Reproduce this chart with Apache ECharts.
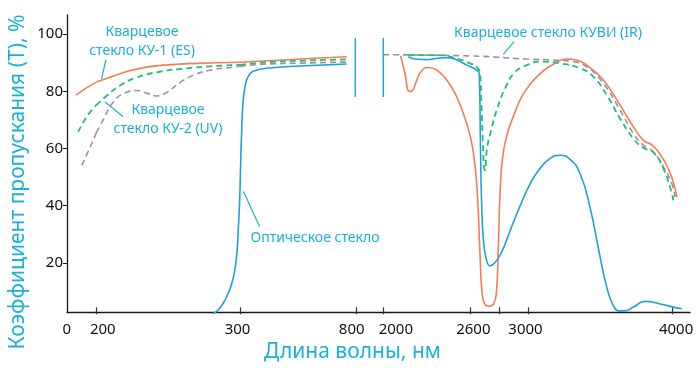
<!DOCTYPE html>
<html><head><meta charset="utf-8">
<script src="https://cdn.jsdelivr.net/npm/echarts@6/dist/echarts.min.js"></script>
<style>html,body{margin:0;padding:0;background:#fff}#c{width:700px;height:368px}</style>
</head><body><div id="c"></div>
<script>
// ---- axis definitions (wavelength, nm) ----
const xSegments = [[0, 200], [200, 300], [300, 800], [2000, 4122]];
const xLabelValues = [[0, 200], [300], [800], [2000, 2600, 3000, 4000]];
const xTickValues = [[200], [300], [800], [2000, 2600, 2800, 3000, 4000]];
const yTickValues = [20, 40, 60, 80, 100];
const yMin = 2.8, yMax = 106.7;

// ---- series data: [wavelength nm, transmittance %] ----
const esLeft = [[74,78.9],[140,81.4],[200,83.4],[210,85.2],[222,87.2],[235,88.6],[250,89.4],[270,89.9],[300,90.3],[415,90.8],[560,91.4],[760,92.2]];
const esRight = [[2120,92.5],[2150,86.4],[2180,80.2],[2200,80.4],[2225,83.2],[2260,87.0],[2311,88.5],[2370,87.6],[2439,84.1],[2508,78.3],[2577,69.0],[2620,60],[2650,45],[2668,25],[2682,11],[2700,6.5],[2730,5.6],[2760,6.2],[2782,10],[2795,25],[2808,45],[2825,57],[2855,65],[2900,71.5],[2960,78.5],[3030,83.5],[3100,87],[3176,89.6],[3270,91.4],[3340,91.0],[3408,89.3],[3522,84.1],[3638,75.4],[3730,67.9],[3800,63.2],[3860,61.5],[3920,58.0],[3970,53.5],[4005,49],[4031,43.5]];
const uvLeft = [[88,66.1],[140,71.3],[200,75.4],[207,78.6],[216.5,82.2],[228,85.0],[244,87.0],[263,88.2],[279,88.9],[300,89.4],[415,90.3],[560,90.8],[760,91.3]];
const uvRight = [[2173,92.8],[2370,92.8],[2508,91.6],[2600,89.9],[2646,88.7],[2669,86.4],[2679,76],[2688,63.2],[2697,54],[2704,52.8],[2716,59.8],[2740,65.5],[2790,74.5],[2850,82],[2910,86.8],[2992,89.3],[3085,90.5],[3223,89.9],[3361,88.2],[3453,85.3],[3546,78.9],[3638,70.8],[3730,63.8],[3799,60.6],[3869,59.0],[3938,53.4],[3984,47.0],[4007,42.4]];
const irLeft = [[110,54.5],[181,63.2],[200,65.8],[205,70.5],[212,76.6],[221,79.9],[228,80.5],[236,79.4],[242,78.6],[249,79.8],[258,83.2],[267.5,85.8],[279,87.5],[295,88.6],[300,88.9],[393,89.6],[560,90.0],[760,90.4]];
const irRight = [[2000,92.9],[2600,92.5],[2992,91.4],[3176,91.1],[3300,90.6],[3408,88.7],[3522,83],[3638,73.7],[3730,65.6],[3799,61.5],[3869,59.2],[3938,54],[3996,48.2],[4019,43.5]];
const opticalLeft = [[281.4,3.0],[286,5.0],[290,8.2],[294,13.0],[297,20.0],[298.8,32],[300,46],[303,56],[307,66],[312,75],[319,80.5],[329,84.2],[343,86.3],[357,87.2],[415,88.2],[560,89.0],[760,89.7]];
const opticalRight = [[2173,92.2],[2220,91.4],[2300,91.2],[2380,91.7],[2439,91.9],[2508,91.1],[2577,89.3],[2646,87.6],[2664,86.4],[2672,62],[2680,42],[2692,29],[2712,22],[2738,19.6],[2773,20.8],[2815,24],[2860,29.5],[2910,36.0],[2960,42.0],[3015,48.0],[3075,52.8],[3154,56.9],[3223,58.0],[3292,56.6],[3361,51.7],[3430,40.0],[3500,22.7],[3546,12.3],[3590,6.0],[3630,4.0],[3670,4.0],[3730,5.3],[3811,7.3],[3915,6.4],[4007,5.3],[4065,4.7]];

// ---- styles / layout ----
const CYAN = '#19b2d6';
const FONT = 'Noto Sans';
const plotTop = 15, plotBottom = 53.7;
const segPixLeft = [64, 96.3, 240, 383.3];
const segPixWidth = [32.3, 143.7, 116, 306.7];
const labelShift = {0: 2.7, 200: 6.5, 300: -2.5, 800: -4.3, 2000: 12.5, 2600: 3.3, 3000: -2.3, 4000: 3.7};

const curves = [
  {name: 'КУВИ (IR)', pts: irLeft.concat(irRight), color: '#9f8ea2', type: [6, 4], width: 1.6},
  {name: 'КУ-1 (ES)', pts: esLeft.concat(esRight), color: '#f47d55', type: 'solid', width: 1.6},
  {name: 'Оптическое стекло', pts: opticalLeft.concat(opticalRight), color: '#1ba3d9', type: 'solid', width: 1.6},
  {name: 'КУ-2 (UV)', pts: uvLeft.concat(uvRight), color: '#1fbf78', type: [6, 4], width: 1.8}
];

const grids = [{left: 64, right: 10, top: plotTop, bottom: plotBottom}];
const xAxes = [{
  gridIndex: 0, type: 'value', min: 0, max: 1,
  axisLine: {show: true, lineStyle: {color: '#1a1a1a', width: 1.3}},
  axisTick: {show: false}, axisLabel: {show: false}, splitLine: {show: false},
  name: 'Длина волны, нм', nameLocation: 'middle', nameGap: 30, nameMoveOverlap: false,
  nameTextStyle: {color: CYAN, fontSize: 21, fontFamily: FONT, padding: [0, 52, 0, 0]}
}];
const yAxes = [{
  gridIndex: 0, type: 'value', min: yMin, max: yMax,
  axisLine: {show: true, lineStyle: {color: '#1a1a1a', width: 1.3}},
  axisTick: {show: true, inside: false, length: 4, customValues: yTickValues, lineStyle: {color: '#1a1a1a'}},
  axisLabel: {customValues: yTickValues, color: '#111', fontSize: 15, fontFamily: FONT, margin: 4},
  splitLine: {show: false},
  name: 'Коэффициент пропускания (Т), %', nameLocation: 'middle', nameRotate: 90, nameGap: 38, nameMoveOverlap: false,
  nameTextStyle: {color: CYAN, fontSize: 21, fontFamily: FONT, padding: [0, 37, 0, 0]}
}];

const rich = {};
Object.keys(labelShift).forEach(k => {
  const s = labelShift[k];
  rich['v' + k] = {color: '#111', fontSize: 15, fontFamily: FONT,
    padding: s >= 0 ? [0, 0, 0, 2 * s] : [0, -2 * s, 0, 0]};
});

xSegments.forEach((seg, i) => {
  grids.push({left: segPixLeft[i], width: segPixWidth[i], top: plotTop, bottom: plotBottom});
  xAxes.push({
    gridIndex: i + 1, type: 'value', min: seg[0], max: seg[1],
    axisLine: {show: false},
    axisTick: {show: true, inside: true, length: 7, customValues: xTickValues[i], lineStyle: {color: '#333', width: 1.2}},
    axisLabel: {customValues: xLabelValues[i], margin: 8, formatter: v => '{v' + v + '|' + v + '}', rich: rich},
    splitLine: {show: false}
  });
  yAxes.push({gridIndex: i + 1, type: 'value', min: yMin, max: yMax, show: false});
});

const series = [];
curves.forEach(c => {
  xSegments.forEach((seg, i) => {
    const pts = c.pts.filter(p => p[0] >= seg[0] && p[0] <= seg[1]);
    if (pts.length < 2) return;
    series.push({
      type: 'line', name: c.name, xAxisIndex: i + 1, yAxisIndex: i + 1,
      data: pts, showSymbol: false, smooth: 0.5,
      lineStyle: {color: c.color, width: c.width, type: c.type}, silent: true
    });
  });
});

const txt = (x, y, t) => ({type: 'text', x: x, y: y, style: {text: t, fill: CYAN, fontSize: 14, fontFamily: FONT, align: 'center', verticalAlign: 'middle', lineHeight: 19}});
const ln = (x1, y1, x2, y2, col, w) => ({type: 'line', shape: {x1, y1, x2, y2}, style: {stroke: col || CYAN, lineWidth: w || 1.2}});

const graphic = [
  ln(355.3, 38, 355.3, 97, '#1ba8d8', 1.5),
  ln(383.3, 38, 383.3, 97, '#1ba8d8', 1.5),
  txt(142, 41.5, 'Кварцевое\nстекло КУ-1 (ES)'),
  ln(106, 59.5, 101.5, 79),
  txt(168, 120, 'Кварцевое\nстекло КУ-2 (UV)'),
  ln(105, 102, 123, 116.5),
  txt(315, 238, 'Оптическое стекло'),
  ln(243.5, 191.5, 259.5, 226.5),
  txt(548, 33, 'Кварцевое стекло КУВИ (IR)'),
  ln(514, 41.7, 503.3, 54.3)
];

const chart = echarts.init(document.getElementById('c'), null, {renderer: 'canvas'});
chart.setOption({
  animation: false, backgroundColor: '#fff',
  grid: grids, xAxis: xAxes, yAxis: yAxes, series: series, graphic: graphic
});
</script></body></html>
